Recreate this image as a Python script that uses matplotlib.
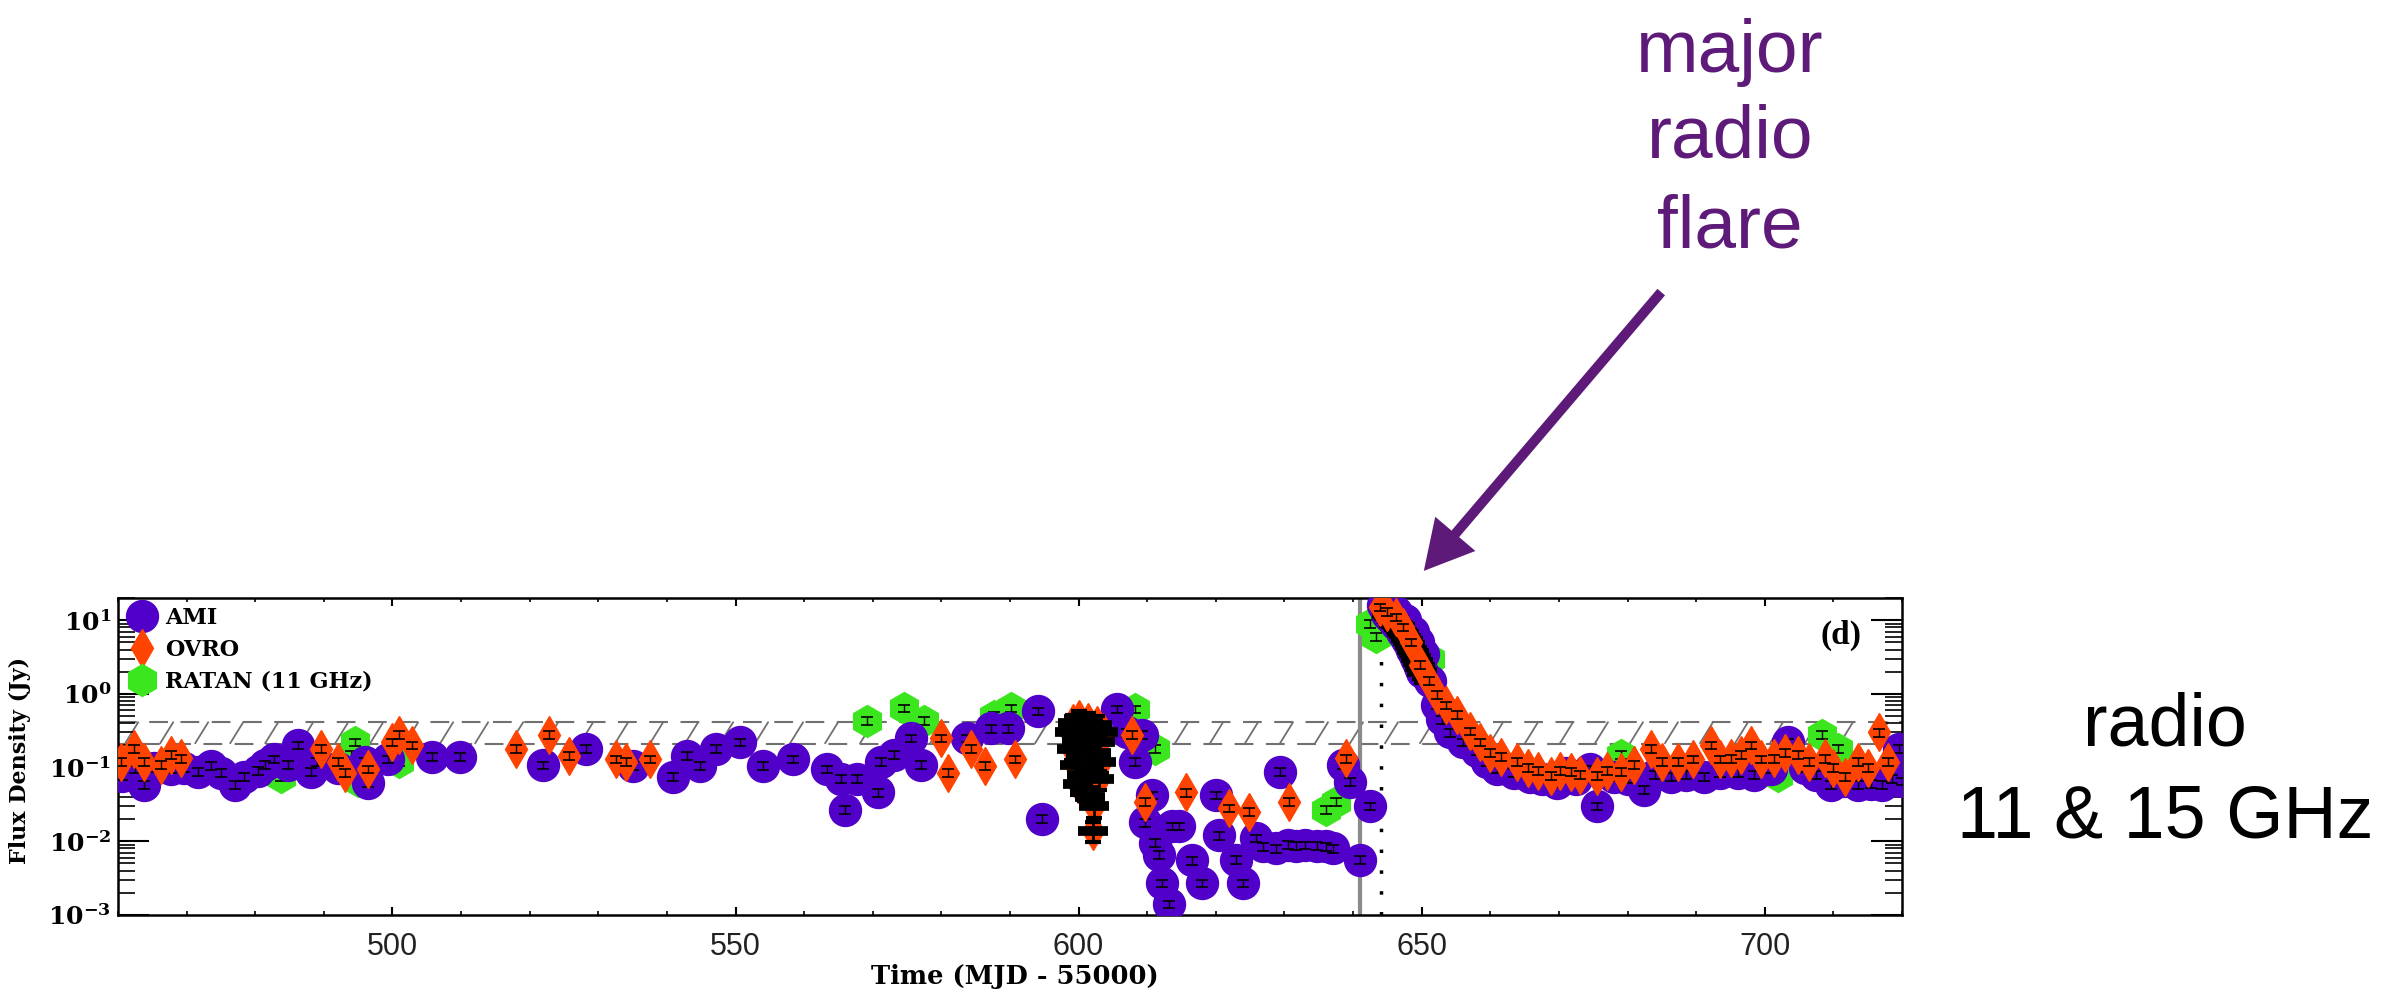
import numpy as np
import matplotlib
matplotlib.use("Agg")
import matplotlib.pyplot as plt
from matplotlib.collections import LineCollection
from matplotlib.patches import FancyArrowPatch
from matplotlib.ticker import MultipleLocator, LogLocator, NullFormatter

plt.rcParams['mathtext.fontset'] = 'dejavuserif'

# ---- data (time in MJD-55000, flux density in Jy) ----
ami_t = [460.6, 462.5, 463.8, 465.3, 467.7, 469.6, 471.6, 473.5, 475.0, 477.0,
         478.4, 480.4, 481.4, 482.8, 484.8, 486.2, 488.2, 489.0, 492.1, 496.0,
         496.5, 499.4, 505.8, 509.9, 521.9, 528.2, 535.0, 540.9, 542.9, 544.8,
         547.2, 550.7, 554.0, 558.4, 563.3, 565.3, 566.0, 567.7, 570.7, 571.2,
         573.1, 575.5, 577.0, 583.8, 587.3, 589.7, 594.1, 594.6, 605.6, 607.0,
         608.2, 609.2, 609.7, 610.7, 611.1, 611.7, 612.2, 613.1, 613.6, 614.6,
         616.5, 618.0, 620.0, 620.5, 622.9, 623.9, 625.9, 626.8, 628.8, 629.3,
         630.5, 631.7, 633.0, 634.7, 636.0, 637.1, 638.5, 639.5, 641.0, 642.5,
         644.4, 645.3, 646.3, 647.5, 648.8, 649.5, 650.2, 651.2, 652.2, 653.0,
         654.1, 656.0, 658.0, 659.5, 661.0, 663.5, 665.8, 667.5, 669.7, 671.0,
         672.5, 674.6, 675.6, 678.0, 680.0, 682.4, 684.0, 686.3, 688.5, 691.2,
         693.5, 696.1, 698.5, 700.9, 703.4, 705.8, 707.5, 709.7, 711.5, 713.6,
         715.5, 717.1, 718.6, 719.5, 720.0]
ami_f = [0.078, 0.095, 0.058, 0.10, 0.095, 0.10, 0.088, 0.105, 0.085, 0.058,
         0.075, 0.09, 0.11, 0.13, 0.11, 0.20, 0.088, 0.12, 0.10, 0.12,
         0.062, 0.13, 0.14, 0.14, 0.108, 0.18, 0.105, 0.075, 0.145, 0.105,
         0.18, 0.22, 0.105, 0.13, 0.095, 0.07, 0.027, 0.07, 0.046, 0.12,
         0.15, 0.25, 0.11, 0.25, 0.34, 0.34, 0.58, 0.02, 0.62, 0.30,
         0.12, 0.28, 0.018, 0.042, 0.0095, 0.0065, 0.0027, 0.0014, 0.016, 0.016,
         0.0055, 0.0027, 0.042, 0.012, 0.0056, 0.0027, 0.011, 0.0085, 0.008, 0.087,
         0.009, 0.0087, 0.0088, 0.0087, 0.0085, 0.008, 0.108, 0.064, 0.0056, 0.030,
         16.0, 14.5, 13.0, 10.0, 7.0, 5.0, 3.5, 1.5, 0.7, 0.45,
         0.30, 0.22, 0.17, 0.12, 0.095, 0.085, 0.075, 0.07, 0.062, 0.085,
         0.07, 0.095, 0.03, 0.075, 0.07, 0.05, 0.08, 0.075, 0.08, 0.075,
         0.085, 0.085, 0.08, 0.095, 0.22, 0.10, 0.08, 0.058, 0.065, 0.058,
         0.06, 0.058, 0.07, 0.18, 0.065]

# densely sampled AMI data during the flare peak
ami_dense_t = [645.0, 645.3, 645.6, 645.9, 646.2, 646.5, 646.8, 647.1, 647.4,
               647.7, 648.0, 648.3, 648.6, 648.9, 649.2, 649.5, 649.8, 650.1]
ami_dense_f = [12.0, 11.5, 10.5, 10.0, 9.0, 8.5, 8.0, 7.0, 6.5,
               5.8, 5.2, 4.6, 4.0, 3.6, 3.1, 2.7, 2.3, 2.0]

ovro_t = [460.4, 462.3, 463.8, 466.2, 467.7, 469.2, 489.6, 492.1, 493.1, 496.5,
          499.9, 500.9, 502.8, 518.0, 522.8, 525.8, 532.6, 534.1, 537.5, 580.0,
          580.9, 584.3, 586.3, 590.7, 607.8, 609.7, 615.6, 621.9, 624.8, 630.7,
          639.0, 643.9, 645.0, 646.2, 647.3, 648.5, 649.7, 651.0, 652.2, 653.5,
          655.1, 657.1, 658.5, 660.0, 661.5, 663.9, 665.5, 667.0, 668.8, 670.2,
          671.7, 673.0, 675.6, 677.0, 679.0, 681.0, 683.4, 685.0, 687.3, 689.5,
          692.2, 693.5, 695.1, 696.5, 698.0, 699.5, 701.4, 703.0, 704.8, 706.5,
          708.8, 710.0, 711.7, 713.6, 715.0, 716.6, 718.0]
ovro_f = [0.12, 0.18, 0.12, 0.11, 0.148, 0.133, 0.18, 0.12, 0.085, 0.095,
          0.22, 0.28, 0.20, 0.18, 0.28, 0.145, 0.13, 0.12, 0.13, 0.25,
          0.085, 0.18, 0.105, 0.13, 0.28, 0.034, 0.046, 0.028, 0.025, 0.034,
          0.133, 15.0, 13.0, 11.0, 8.0, 5.0, 2.5, 1.5, 0.98, 0.7,
          0.52, 0.31, 0.22, 0.16, 0.14, 0.12, 0.10, 0.09, 0.078, 0.09,
          0.087, 0.08, 0.078, 0.09, 0.087, 0.11, 0.18, 0.12, 0.12, 0.13,
          0.20, 0.13, 0.133, 0.15, 0.20, 0.13, 0.133, 0.16, 0.148, 0.12,
          0.133, 0.10, 0.075, 0.12, 0.10, 0.30, 0.12]

# densely sampled OVRO data around MJD 600
ovro_dense_t = [598.8, 599.0, 599.2, 599.5, 599.7, 599.9, 600.1, 600.3, 600.5,
                600.7, 600.9, 601.1, 601.3, 601.5, 601.7, 601.9, 602.1, 602.3,
                602.5, 602.7, 602.9, 603.1, 603.3, 603.5]
ovro_dense_f = [0.30, 0.18, 0.40, 0.11, 0.25, 0.06, 0.45, 0.15, 0.08,
                0.33, 0.05, 0.20, 0.42, 0.10, 0.04, 0.27, 0.014, 0.03,
                0.16, 0.38, 0.07, 0.22, 0.12, 0.30]

ratan_t = [483.8, 494.0, 494.5, 495.0, 500.9, 569.2, 574.6, 577.5, 587.7, 590.2,
           608.2, 611.1, 636.0, 637.5, 642.4, 643.4, 651.2, 657.5, 679.0, 701.9,
           708.3, 710.7]
ratan_f = [0.075, 0.15, 0.22, 0.065, 0.12, 0.43, 0.64, 0.43, 0.50, 0.64,
           0.62, 0.18, 0.027, 0.034, 9.0, 6.0, 3.0, 0.2, 0.15, 0.078,
           0.28, 0.18]

band_lo, band_hi = 0.21, 0.42          # hatched quiescent level
t_solid, t_dotted = 641.0, 644.0       # vertical markers

ytick_vals = [1e-3, 1e-2, 1e-1, 1e0, 1e1]
ytick_labels = ['$\\mathbf{10^{-3}}$', '$\\mathbf{10^{-2}}$', '$\\mathbf{10^{-1}}$',
                '$\\mathbf{10^{0}}$', '$\\mathbf{10^{1}}$']
xtick_vals = [500, 550, 600, 650, 700]

AMI_C = '#5000c8'
OVRO_C = '#ff4300'
RATAN_C = '#3ce61e'
PURPLE = '#5e1a78'
GRAY = '#707070'
REL_ERR = 0.12

W, H = 2392, 994


def px(x, y):
    """pixel position in the picture -> figure fraction"""
    return x / W, 1 - y / H


fig = plt.figure(figsize=(W / 100, H / 100), dpi=100)
ax = fig.add_axes([118 / W, 1 - 915 / H, (1902 - 118) / W, (915 - 598) / H])
ax.set_yscale('log')
ax.set_xlim(460, 720)
ax.set_ylim(1e-3, 20)

# hatched band
ax.plot([460, 720], [band_hi, band_hi], color=GRAY, lw=1.5, ls=(0, (9, 6)), zorder=1)
ax.plot([460, 720], [band_lo, band_lo], color=GRAY, lw=1.5, ls=(4, (9, 6)), zorder=1)
hatch_x = np.arange(461.0, 719.0, 5.1)
segs = [[(x, band_lo), (x + 2.0, band_hi)] for x in hatch_x]
ax.add_collection(LineCollection(segs, colors=GRAY, linewidths=1.3, zorder=1))

ax.axvline(t_solid, color='#8a8a8a', lw=3, zorder=1.5)
ax.axvline(t_dotted, color='k', lw=2.5, ls=(0, (1, 5)), zorder=1.5)


def series(t, f, marker, ms, color, z, dense=False):
    t = np.asarray(t)
    f = np.asarray(f)
    line, = ax.plot(t, f, ls='none', marker=marker, ms=ms, color=color,
                    mec=color, zorder=z)
    err = f * (0.3 if dense else REL_ERR)
    ax.errorbar(t, f, yerr=err, fmt='none', ecolor='k',
                elinewidth=2 if dense else 1, capsize=6 if dense else 4,
                capthick=3 if dense else 1.2, zorder=z + 0.1)
    if dense:
        ax.plot(t, f, ls='none', marker='_', ms=22, mew=7, color='k', zorder=z + 0.2)
    return line


h_ratan = series(ratan_t, ratan_f, 'h', 23, RATAN_C, 2)
h_ami = series(ami_t, ami_f, 'o', 23, AMI_C, 3)
series(ami_dense_t, ami_dense_f, 'o', 23, AMI_C, 3.3, dense=True)
h_ovro = series(ovro_t, ovro_f, 'd', 19, OVRO_C, 4)
series(ovro_dense_t, ovro_dense_f, 'd', 19, OVRO_C, 4.3, dense=True)

# axes styling (IDL look)
for s in ax.spines.values():
    s.set_linewidth(1.8)
ax.set_xticks(xtick_vals)
ax.xaxis.set_minor_locator(MultipleLocator(10))
ax.set_yticks(ytick_vals, labels=ytick_labels)
ax.yaxis.set_minor_locator(LogLocator(base=10, subs=np.arange(2, 10)))
ax.yaxis.set_minor_formatter(NullFormatter())
ax.tick_params(axis='x', which='both', direction='in', top=True, bottom=True,
               labelsize=22, labelcolor='#222222', pad=12)
ax.tick_params(axis='x', which='major', length=6, width=1.5)
ax.tick_params(axis='x', which='minor', length=3, width=1.2)
ax.tick_params(axis='y', which='both', direction='in', left=True, right=True,
               labelsize=18, pad=5)
ax.tick_params(axis='y', which='major', length=22, width=1.5)
ax.tick_params(axis='y', which='minor', length=12, width=1.2)
for lab in ax.get_xticklabels():
    lab.set_family('Liberation Sans')

ax.set_xlabel('Time (MJD - 55000)', family='DejaVu Serif', weight='bold', fontsize=18.5)
ax.set_ylabel('Flux Density (Jy)', family='DejaVu Serif', weight='bold', fontsize=16)
ax.xaxis.set_label_coords(0.503, -0.155)
ax.yaxis.set_label_coords(-0.049, 0.489)

ax.legend([h_ami, h_ovro, h_ratan], ['AMI', 'OVRO', 'RATAN (11 GHz)'],
          loc='upper left', bbox_to_anchor=(0, 1), frameon=False, numpoints=1,
          prop={'family': 'DejaVu Serif', 'weight': 'bold', 'size': 16},
          handlelength=1.4, handletextpad=0.3, labelspacing=0.45,
          borderpad=0.05, borderaxespad=0.35)

ax.text(0.966, 0.883, '(d)', transform=ax.transAxes, ha='center', va='center',
        family='Liberation Serif', weight='bold', fontsize=24)

# annotations around the panel
for word, yb in zip(['major', 'radio', 'flare'], [72, 158, 248]):
    fig.text(*px(1730, yb), word, ha='center', va='baseline', color=PURPLE,
             family='Liberation Sans', fontsize=54)
for word, yb in zip(['radio', '11 & 15 GHz'], [746, 837]):
    fig.text(*px(2165, yb), word, ha='center', va='baseline', color='black',
             family='Liberation Sans', fontsize=53)

arrow = FancyArrowPatch(px(1663, 290), px(1422, 573), transform=fig.transFigure,
                        arrowstyle='simple,head_length=35,head_width=38,tail_width=7.2',
                        mutation_scale=1, color=PURPLE, lw=0)
fig.add_artist(arrow)

fig.savefig('out.png', dpi=100)
